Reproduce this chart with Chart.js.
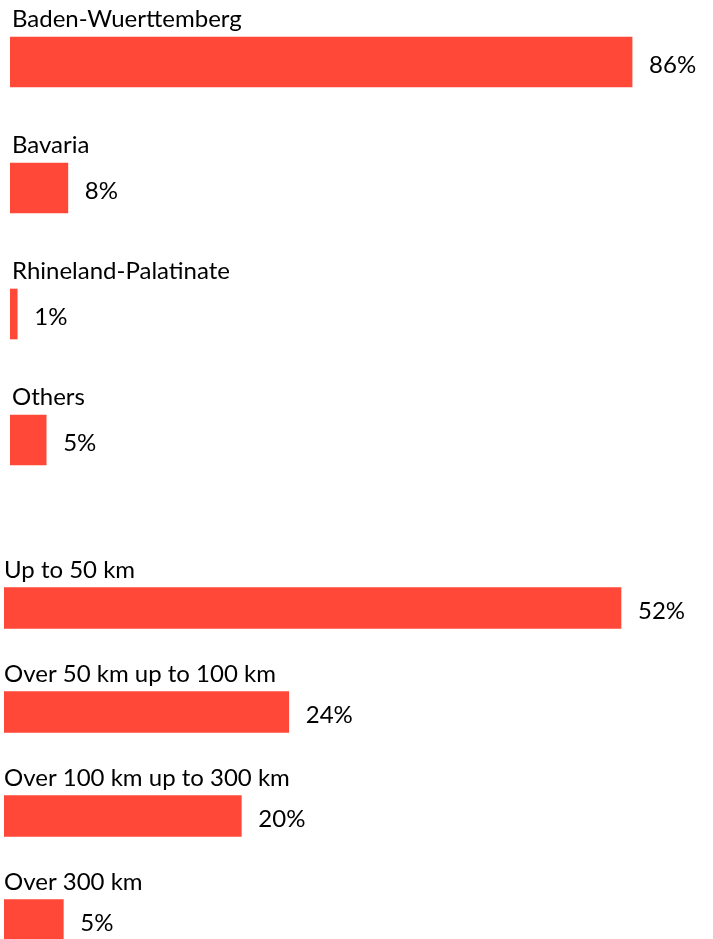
<!DOCTYPE html>
<html>
<head>
<meta charset="utf-8">
<script src="https://cdn.jsdelivr.net/npm/chart.js@4.4.1/dist/chart.umd.min.js"></script>
<style>
    html, body { margin: 0; padding: 0; background: #fff; overflow: hidden; }
    #page { position: relative; width: 713px; height: 939px; overflow: hidden; }
    canvas { position: absolute; left: 0; }
    #regionChart { top: -1px; }
    #distanceChart { top: 556px; }
</style>
</head>
<body>
<div id="page">
    <canvas id="regionChart" width="713" height="504"></canvas>
    <canvas id="distanceChart" width="713" height="416"></canvas>
</div>
<script>
const regionLabels = ['Baden-Wuerttemberg', 'Bavaria', 'Rhineland-Palatinate', 'Others'];
const regionValues = [86, 8, 1, 5];

const distanceLabels = ['Up to 50 km', 'Over 50 km up to 100 km', 'Over 100 km up to 300 km', 'Over 300 km'];
const distanceValues = [52, 24, 20, 5];

const BAR_COLOR = '#ff4837';
const FONT = '24px Lato, "Open Sans", sans-serif';

// draws the category name above each bar and the percentage after it
const barTextPlugin = {
    id: 'barText',
    afterDatasetsDraw(chart, args, opts) {
        const ctx = chart.ctx;
        const meta = chart.getDatasetMeta(0);
        ctx.save();
        ctx.font = FONT;
        ctx.fillStyle = '#000';
        meta.data.forEach((bar, i) => {
            const top = bar.y - bar.height / 2;
            ctx.textAlign = 'left';
            ctx.textBaseline = 'alphabetic';
            ctx.fillText(chart.data.labels[i], bar.base + opts.labelDx, top - opts.labelGap);
            ctx.textBaseline = 'middle';
            ctx.fillText(chart.data.datasets[0].data[i] + '%', bar.x + 17, bar.y + 3);
        });
        ctx.restore();
    }
};

function makeBarChart(id, labels, values, cfg) {
    const ctx = document.getElementById(id).getContext('2d');
    return new Chart(ctx, {
        type: 'bar',
        data: {
            labels: labels,
            datasets: [{
                data: values,
                backgroundColor: BAR_COLOR,
                borderWidth: 0,
                barThickness: cfg.thickness
            }]
        },
        options: {
            indexAxis: 'y',
            responsive: false,
            animation: false,
            devicePixelRatio: 1,
            layout: {
                padding: { left: cfg.left, right: cfg.right, top: 0, bottom: 0 }
            },
            plugins: {
                legend: { display: false },
                tooltip: { enabled: false },
                barText: { labelDx: cfg.labelDx, labelGap: cfg.labelGap }
            },
            scales: {
                x: { display: false, min: 0, max: cfg.max },
                y: { display: false }
            }
        },
        plugins: [barTextPlugin]
    });
}

makeBarChart('regionChart', regionLabels, regionValues, {
    thickness: 50, left: 10, right: 52, max: 90, labelDx: 2, labelGap: 10
});

makeBarChart('distanceChart', distanceLabels, distanceValues, {
    thickness: 41, left: 4, right: 56.4, max: 55, labelDx: 0, labelGap: 10
});
</script>
</body>
</html>
